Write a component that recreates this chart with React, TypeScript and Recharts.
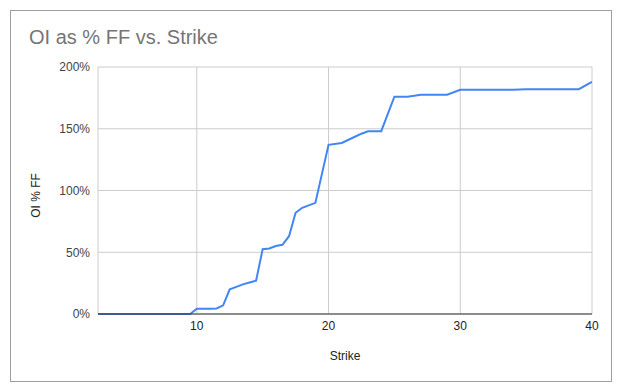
import React from 'react';
import { LineChart, Line, XAxis, YAxis, CartesianGrid } from 'recharts';

const strikes = [2.5, 3, 4, 5, 6, 7, 8, 9, 9.5, 10, 10.5, 11, 11.5, 12, 12.5, 13, 13.5, 14, 14.5, 15, 15.5, 16, 16.5, 17, 17.5, 18, 19, 20, 21, 22, 22.5, 23, 24, 25, 26, 27, 28, 29, 30, 31, 32, 33, 34, 35, 36, 37, 38, 39, 40];
const oiPctFF = [0, 0, 0, 0, 0, 0, 0, 0, 0, 4.3, 4.3, 4.3, 4.5, 7, 20, 22, 24, 25.5, 27, 52.5, 53, 55, 56, 63, 82, 86, 90, 137, 138.5, 143.5, 146, 148, 148, 176, 176, 177.5, 177.5, 177.5, 181.5, 181.5, 181.5, 181.5, 181.5, 182, 182, 182, 182, 182, 188];
const xTicks = [10, 20, 30, 40];
const yTicks = [0, 50, 100, 150, 200];

const data = strikes.map((s, i) => ({ strike: s, value: oiPctFF[i] }));

const FONT = '"Liberation Sans", Arial, sans-serif';

const YLabel = (props: any) => {
  const vb = props.viewBox || {};
  const cx = vb.x + 25;
  const cy = vb.y + vb.height / 2 + 5;
  return (
    <text
      x={cx}
      y={cy}
      transform={`rotate(-90, ${cx}, ${cy})`}
      textAnchor="middle"
      dominantBaseline="central"
      fill="#222"
      fontSize={12}
      fontFamily={FONT}
    >
      OI % FF
    </text>
  );
};

export default function App() {
  return (
    <div style={{ padding: 2 }}>
      <div
        style={{
          position: 'relative',
          width: 600,
          height: 370,
          border: '1px solid #9e9e9e',
          background: '#fff',
        }}
      >
        <div
          style={{
            position: 'absolute',
            left: 18,
            top: 14,
            fontFamily: FONT,
            fontSize: 20,
            color: '#757575',
            whiteSpace: 'nowrap',
            lineHeight: '24px',
          }}
        >
          OI as % FF vs. Strike
        </div>
        <LineChart
          width={600}
          height={370}
          data={data}
          margin={{ top: 56, right: 19, left: 0, bottom: 0 }}
        >
          <CartesianGrid stroke="#cccccc" strokeWidth={1} />
          <XAxis
            dataKey="strike"
            type="number"
            domain={[2.5, 40]}
            ticks={xTicks}
            allowDataOverflow
            height={67}
            tickLine={false}
            tickSize={0}
            tickMargin={7}
            axisLine={{ stroke: '#333333', strokeWidth: 1 }}
            tick={{ fill: '#222', fontSize: 12, fontFamily: FONT }}
            label={{
              value: 'Strike',
              position: 'insideBottom',
              offset: 21,
              fill: '#222',
              fontSize: 12,
              fontFamily: FONT,
            }}
          />
          <YAxis
            type="number"
            domain={[0, 200]}
            ticks={yTicks}
            width={87}
            tickLine={false}
            tickSize={0}
            tickMargin={8}
            axisLine={false}
            tickFormatter={(v: number) => `${v}%`}
            tick={{ fill: '#444', fontSize: 12, fontFamily: FONT }}
            label={{ content: YLabel }}
          />
          <Line
            type="linear"
            dataKey="value"
            stroke="#4285F4"
            strokeWidth={2}
            dot={false}
            activeDot={false}
            isAnimationActive={false}
          />
        </LineChart>
      </div>
    </div>
  );
}
